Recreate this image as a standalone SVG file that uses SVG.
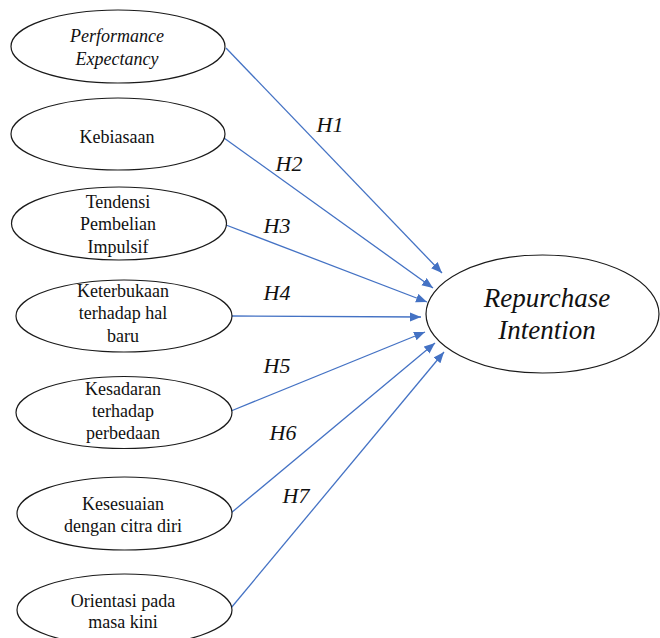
<svg xmlns="http://www.w3.org/2000/svg" width="660" height="638" viewBox="0 0 660 638">
<style>
.node ellipse{fill:#fff;stroke:#1a1a1a;stroke-width:1.2}
text{font-family:'Liberation Serif','Times New Roman','DejaVu Serif',serif;fill:#111;text-anchor:middle}
.t{font-size:18px}
.i{font-style:italic}
.big{font-size:27px}
.h{font-size:22px;font-style:italic}
#edges line{stroke:#4472C4;stroke-width:1.3;marker-end:url(#arr)}
</style>
<defs>
<marker id="arr" markerUnits="userSpaceOnUse" markerWidth="12" markerHeight="10" refX="11" refY="4.5" orient="auto">
<path d="M0,0 L11,4.5 L0,9 Z" fill="#4472C4"/>
</marker>
</defs>
<rect width="660" height="638" fill="#fff"/>
<g id="edges">
<line x1="226" y1="48" x2="442" y2="273"/>
<line x1="224" y1="138" x2="433" y2="288"/>
<line x1="226" y1="225" x2="427" y2="302"/>
<line x1="231" y1="316" x2="421" y2="317"/>
<line x1="231" y1="411" x2="425" y2="332"/>
<line x1="231" y1="513" x2="435" y2="343"/>
<line x1="231" y1="608" x2="444" y2="352"/>
</g>
<g id="labels">
<text class="h" x="330" y="132">H1</text>
<text class="h" x="289" y="171">H2</text>
<text class="h" x="277" y="233">H3</text>
<text class="h" x="277" y="300">H4</text>
<text class="h" x="277" y="373">H5</text>
<text class="h" x="283" y="440">H6</text>
<text class="h" x="296" y="503">H7</text>
</g>
<g id="n1" class="node"><ellipse cx="118" cy="46.5" rx="107" ry="36.5"/>
<text class="t i" x="117" y="42">Performance</text><text class="t i" x="117" y="65">Expectancy</text></g>
<g id="n2" class="node"><ellipse cx="118" cy="134" rx="107" ry="36"/>
<text class="t" x="117" y="143">Kebiasaan</text></g>
<g id="n3" class="node"><ellipse cx="119" cy="223.5" rx="107.5" ry="36.5"/>
<text class="t" x="118" y="208">Tendensi</text><text class="t" x="118" y="230">Pembelian</text><text class="t" x="118" y="253">Impulsif</text></g>
<g id="n4" class="node"><ellipse cx="124" cy="316" rx="108" ry="36"/>
<text class="t" x="123" y="297">Keterbukaan</text><text class="t" x="123" y="319">terhadap hal</text><text class="t" x="123" y="342">baru</text></g>
<g id="n5" class="node"><ellipse cx="124" cy="412.5" rx="108" ry="36"/>
<text class="t" x="123" y="395">Kesadaran</text><text class="t" x="123" y="417">terhadap</text><text class="t" x="123" y="439">perbedaan</text></g>
<g id="n6" class="node"><ellipse cx="124.5" cy="513.5" rx="107.5" ry="36.5"/>
<text class="t" x="123" y="510">Kesesuaian</text><text class="t" x="123" y="532">dengan citra diri</text></g>
<g id="n7" class="node"><ellipse cx="124.5" cy="610" rx="107.5" ry="36"/>
<text class="t" x="123" y="607">Orientasi pada</text><text class="t" x="123" y="628">masa kini</text></g>
<g id="target" class="node"><ellipse cx="542.5" cy="314" rx="116.5" ry="59"/>
<text class="t i big" x="547" y="307">Repurchase</text><text class="t i big" x="547" y="339">Intention</text></g>
</svg>
